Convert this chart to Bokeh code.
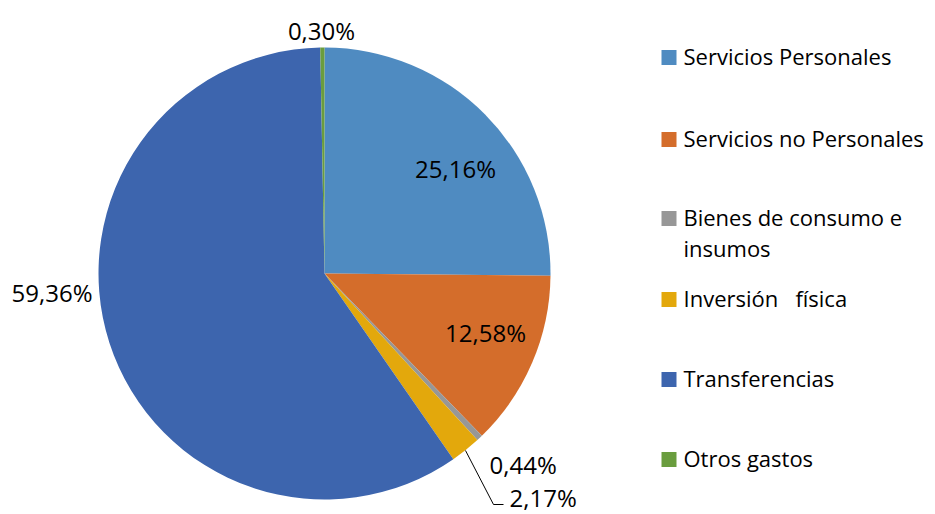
import math
from bokeh.plotting import figure
from bokeh.models import Range1d, ColumnDataSource
from bokeh.core.properties import value
from bokeh.embed import file_html
from bokeh.resources import INLINE

# ---- data ----
categories = ["Servicios Personales", "Servicios no Personales", "Bienes de consumo e\ninsumos",
              "Inversión\u00a0\u00a0 física", "Transferencias", "Otros gastos"]
shares = [25.16, 12.58, 0.44, 2.17, 59.36, 0.30]
pct_labels = ["25,16%", "12,58%", "0,44%", "2,17%", "59,36%", "0,30%"]
colors = ["#4F8BC1", "#D46D2B", "#979797", "#E3A80C", "#3D65AE", "#6A9D3E"]

# ---- layout (page pixel coordinates) ----
W, H = 935, 514
CX, CY, R = 324, 273, 226
label_pos = [(455, 168, "center"), (485, 332, "center"), (489, 464, "left"),
             (509, 497, "left"), (92, 292, "right"), (321, 30, "center")]
legend_y = [57, 139, 218, 299, 379, 459]
legend_sq_x = 668.5
legend_txt_x = 683
leader = [(465, 450), (493, 504), (503, 504)]

def X(px):
    return px

def Y(py):
    return H - py

p = figure(width=W, height=H, output_backend="svg", toolbar_location=None,
           x_range=Range1d(0, W), y_range=Range1d(0, H), min_border=0)
p.axis.visible = False
p.grid.visible = False
p.outline_line_color = None
p.background_fill_color = "white"

total = sum(shares)
starts, ends = [], []
acc = 0.0
for s in shares:
    starts.append(math.pi / 2 - 2 * math.pi * acc / total)
    acc += s
    ends.append(math.pi / 2 - 2 * math.pi * acc / total)

src = ColumnDataSource(dict(start=starts, end=ends, color=colors, cat=categories))
p.wedge(x=X(CX), y=Y(CY), radius=R, radius_units="screen", start_angle="start",
        end_angle="end", direction="clock", fill_color="color", line_color=None, source=src)

# leader line
p.line([X(a) for a, b in leader], [Y(b) for a, b in leader], line_color="black", line_width=1)

# data labels
for (lx, ly, al), t in zip(label_pos, pct_labels):
    p.text(x=[X(lx)], y=[Y(ly)], text=[t], text_font=value("Open Sans"), text_font_size="24px",
           text_align=al, text_baseline="middle", text_color="black")

# legend
for cat, col, ly in zip(categories, colors, legend_y):
    p.rect(x=[X(legend_sq_x)], y=[Y(ly)], width=15, height=15, width_units="screen",
           height_units="screen", fill_color=col, line_color=None)
    lines = cat.split("\n")
    for i, ln in enumerate(lines):
        p.text(x=[X(legend_txt_x)], y=[Y(ly - 1.5 + i * 31)], text=[ln], text_font=value("Open Sans"),
               text_font_size="22px", text_align="left", text_baseline="middle",
               text_color="black")

open("out.html", "w").write(file_html(p, INLINE))
